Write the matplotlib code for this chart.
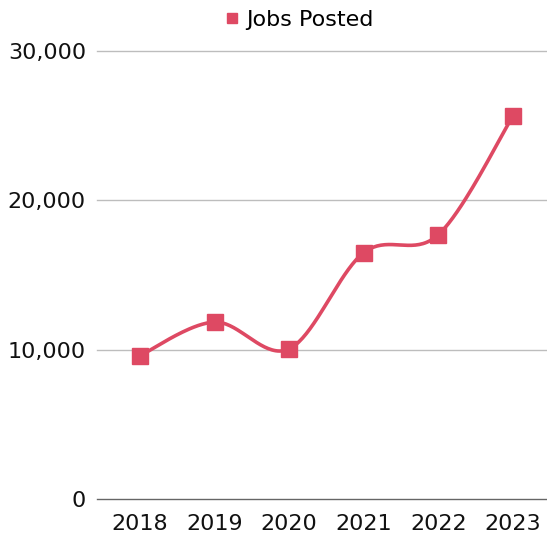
import numpy as np
import matplotlib
matplotlib.use("Agg")
import matplotlib.pyplot as plt
from matplotlib.ticker import FuncFormatter

years = ["2018", "2019", "2020", "2021", "2022", "2023"]
jobs_posted = [9600, 11850, 10050, 16500, 17700, 25650]
series_name = "Jobs Posted"
color = "#DE4963"

plt.rcParams['font.family'] = ['DejaVu Sans']

fig = plt.figure(figsize=(5.47, 5.38), dpi=100)
ax = fig.add_axes([97/547, 39/538, 450/547, 448/538])

x = np.arange(len(years), dtype=float)
y = np.array(jobs_posted, dtype=float)

# Catmull-Rom smooth curve through the data points
def smooth(xs, ys, n=40, t=0.5):
    px, py = [], []
    N = len(xs)
    for i in range(N - 1):
        x0, y0 = xs[max(i - 1, 0)], ys[max(i - 1, 0)]
        x1, y1 = xs[i], ys[i]
        x2, y2 = xs[i + 1], ys[i + 1]
        x3, y3 = xs[min(i + 2, N - 1)], ys[min(i + 2, N - 1)]
        c1x = x1 + (x2 - x0) * t / 3
        c1y = y1 + (y2 - y0) * t / 3
        c2x = x2 - (x3 - x1) * t / 3
        c2y = y2 - (y3 - y1) * t / 3
        s = np.linspace(0, 1, n)
        bx = (1-s)**3*x1 + 3*(1-s)**2*s*c1x + 3*(1-s)*s**2*c2x + s**3*x2
        by = (1-s)**3*y1 + 3*(1-s)**2*s*c1y + 3*(1-s)*s**2*c2y + s**3*y2
        px.extend(bx); py.extend(by)
    return np.array(px), np.array(py)

sx, sy = smooth(x, y, t=0.5)
ax.plot(sx, sy, color=color, lw=2.6, solid_capstyle='round', zorder=3)
ax.plot(x, y, linestyle='none', marker='s', markersize=11, color=color,
        zorder=4, label=series_name)

ax.set_xlim(-0.576, 5.456)
ax.set_ylim(0, 30000)
ax.set_yticks([0, 10000, 20000, 30000])
ax.yaxis.set_major_formatter(FuncFormatter(lambda v, p: f"{int(v):,}"))
ax.set_xticks(x)
ax.set_xticklabels(years)

for v in [10000, 20000, 30000]:
    ax.axhline(v, color="#BDBDBD", lw=1.0, zorder=1, clip_on=False)
ax.axhline(0, color="#666666", lw=1.0, zorder=1, clip_on=False)

for s in ax.spines.values():
    s.set_visible(False)
ax.tick_params(axis='both', length=0, labelsize=16, colors="#111111")
ax.tick_params(axis='y', pad=8)
ax.tick_params(axis='x', pad=11)

leg = fig.legend(loc='center', bbox_to_anchor=(300/547, 1 - 20/538), frameon=False,
                 fontsize=16, handlelength=0.5, handletextpad=0.35, markerscale=0.7)

fig.savefig("out.png", dpi=100)
